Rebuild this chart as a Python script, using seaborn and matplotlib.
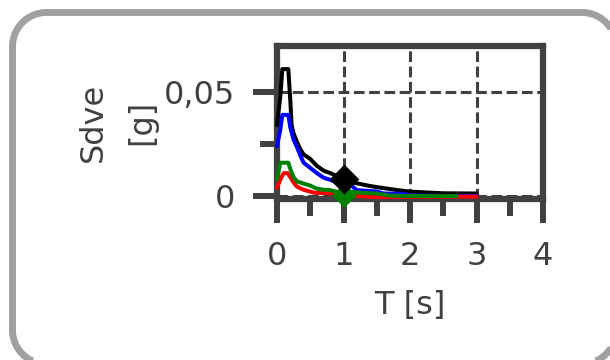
import matplotlib
matplotlib.use("Agg")
import numpy as np
import pandas as pd
import seaborn as sns
import matplotlib.pyplot as plt
from matplotlib.patches import PathPatch
from matplotlib.path import Path
from matplotlib.transforms import IdentityTransform

# ---- data ----
T_black = [0, 0.05, 0.08, 0.17, 0.2, 0.22, 0.25, 0.3, 0.35, 0.4, 0.5, 0.6, 0.7,
           0.8, 0.9, 1.0, 1.1, 1.2, 1.4, 1.6, 1.8, 2.0, 2.5, 3.0]
sd_black = [0.034, 0.048, 0.061, 0.061, 0.046, 0.034, 0.030, 0.026, 0.0225, 0.020,
            0.0178, 0.0145, 0.0122, 0.011, 0.0096, 0.0082, 0.007, 0.0061, 0.0048,
            0.0038, 0.0029, 0.0021, 0.0013, 0.0012]

T_blue = [0, 0.05, 0.08, 0.17, 0.2, 0.25, 0.3, 0.35, 0.4, 0.5, 0.6, 0.7, 0.8,
          0.9, 0.95, 1.0, 1.1, 1.2, 1.5, 1.6, 1.9, 2.0, 2.5, 3.0]
sd_blue = [0.024, 0.032, 0.039, 0.039, 0.033, 0.027, 0.0235, 0.0195, 0.016,
           0.0135, 0.011, 0.0088, 0.0078, 0.0065, 0.006, 0.002, 0.0055, 0.0028,
           0.0022, 0.0012, 0.0011, 0.0003, 0.0, 0.0]

T_red = [0, 0.05, 0.1, 0.16, 0.2, 0.25, 0.3, 0.4, 0.57, 0.83, 1.0, 1.45, 1.75, 2.5, 3.0]
sd_red = [0.004, 0.008, 0.011, 0.011, 0.009, 0.0065, 0.0045, 0.003, 0.0015,
          0.0013, 0.0005, -0.0005, -0.0005, -0.0003, -0.0003]

T_green = [0, 0.05, 0.1, 0.17, 0.2, 0.25, 0.3, 0.4, 0.5, 0.6, 0.7, 0.8, 0.9,
           0.95, 1.0, 1.05, 1.1, 1.3, 1.5, 1.7, 2.0, 2.7]
sd_green = [0.008, 0.016, 0.016, 0.016, 0.013, 0.009, 0.007, 0.006, 0.005, 0.0035,
            0.003, 0.0028, 0.002, 0.0005, -0.001, 0.001, 0.002, 0.0015, 0.0012,
            0.0002, 0.0, 0.0]

marker_T = [1.0]
marker_black = [0.0082]
marker_green = [0.0005]

x_ticks = [0, 1, 2, 3, 4]
x_tick_labels = ["0", "1", "2", "3", "4"]
x_minor = [0.5, 1.5, 2.5, 3.5]
y_ticks = [0, 0.05]
y_tick_labels = ["0", "0,05"]
y_minor = [0.025]

# ---- style ----
sns.set_theme(style="white")
plt.rcParams['font.family'] = ['DejaVu Sans']
AX_COL = '#404040'
TXT_COL = '#404040'
FS = 23
W, H = 610, 360

fig = plt.figure(figsize=(W / 100, H / 100), dpi=100)
fig.patch.set_facecolor('white')
ax = fig.add_axes([277 / W, 161 / H, 266 / W, 153 / H])
ax.set_facecolor('white')

series = [
    (T_black, sd_black, 'black', 3),
    (T_blue, sd_blue, '#0000ff', 4),
    (T_red, sd_red, '#ff0000', 5),
    (T_green, sd_green, '#008000', 6),
]
for T, v, c, z in series:
    sns.lineplot(x=T, y=v, color=c, linewidth=2.9, ax=ax, zorder=z,
                 clip_on=False, estimator=None)

sns.scatterplot(x=marker_T, y=marker_green, marker='D', s=160, color='#008000',
                edgecolor='#008000', linewidth=0, ax=ax, zorder=7, clip_on=False)
sns.scatterplot(x=marker_T, y=marker_black, marker='D', s=230, color='black',
                edgecolor='black', linewidth=0, ax=ax, zorder=8, clip_on=False)

ax.set_xlim(0, 4)
ax.set_ylim(-0.05 * 3 / 104, 0.05 * 150 / 104)

ax.set_xticks(x_ticks)
ax.set_xticklabels(x_tick_labels)
ax.set_xticks(x_minor, minor=True)
ax.set_yticks(y_ticks)
ax.set_yticklabels(y_tick_labels)
ax.set_yticks(y_minor, minor=True)

ax.grid(True, which='major', color=AX_COL, linewidth=2.2,
        linestyle=(0, (3.5, 1.5)))
ax.set_axisbelow(True)

for s in ax.spines.values():
    s.set_visible(True)
    s.set_color(AX_COL)
    s.set_linewidth(4.5)

ax.tick_params(which='major', direction='out', length=17, width=4.3,
               color=AX_COL, labelsize=FS, labelcolor=TXT_COL, pad=13,
               bottom=True, left=True)
ax.tick_params(which='minor', direction='out', length=12.5, width=4.3,
               color=AX_COL, bottom=True, left=True)

ax.set_xlabel("T [s]", fontsize=FS, color=TXT_COL, labelpad=13)
ax.set_ylabel("Sdve\n[g]", fontsize=FS, color=TXT_COL, linespacing=1.72)
ax.yaxis.set_label_coords(-0.45, 0.5)

# rounded frame, drawn in pixel coordinates (origin bottom-left)
R = 34
x0, x1 = 12.5, 616.0
y0, y1 = -4.0, H - 12.5


def corner(cx, cy, a0, a1):
    t = np.radians(np.linspace(a0, a1, 24))
    return np.column_stack([cx + R * np.cos(t), cy + R * np.sin(t)])


pts = np.vstack([
    corner(x1 - R, y1 - R, 0, 90),      # top-right
    corner(x0 + R, y1 - R, 90, 180),    # top-left
    corner(x0 + R, y0 + R, 180, 270),   # bottom-left
    corner(x1 - R, y0 + R, 270, 360),   # bottom-right
])
pts = np.vstack([pts, pts[:1]])
frame = PathPatch(Path(pts), transform=IdentityTransform(), fill=False,
                  edgecolor='#a0a0a0', linewidth=5, joinstyle='round')
fig.add_artist(frame)

fig.savefig("out.png", dpi=100)
